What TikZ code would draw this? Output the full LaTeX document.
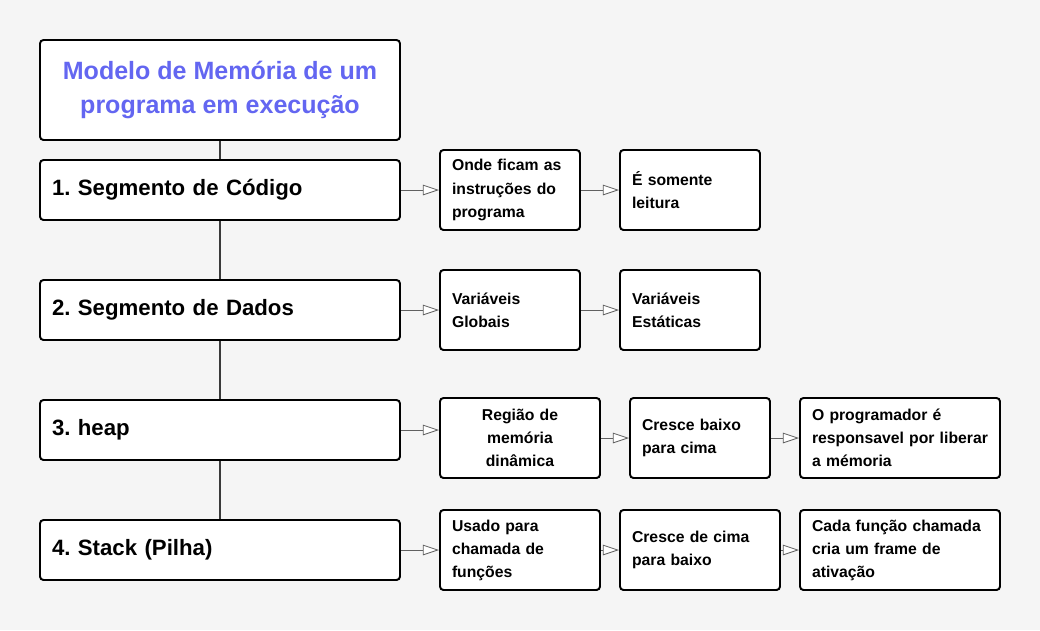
\documentclass[tikz,border=0pt]{standalone}
\usepackage{fontspec}
\setmainfont{Liberation Sans}
\usetikzlibrary{calc,arrows.meta}
\frenchspacing

\definecolor{fundo}{HTML}{F5F5F5}
\definecolor{titulo}{RGB}{99,102,241}
\definecolor{linha}{HTML}{3A3A3A}

\tikzset{
    caixa/.style={draw, line width=1.4pt, rounded corners=2.5pt, fill=white, inner xsep=0.3cm, inner ysep=0pt},
    segmento/.style={caixa, text width=8.4cm, minimum height=1.5cm, align=left,
        font=\fontsize{15.8}{19}\selectfont\bfseries},
    detalhe/.style={caixa, text width=#1, minimum height=2cm, align=left,
        font=\fontsize{11.2}{16.4}\selectfont\bfseries},
    seta/.style={draw=linha!80, line width=0.6pt,
        -{Triangle[open, fill=white, length=11.5pt, width=7.5pt]}},
    liga/.style={draw=linha, line width=1.4pt}
}

\begin{document}
\begin{tikzpicture}
            \useasboundingbox [fill=fundo] (0,0) rectangle (26,-15.75);

            \node (T) at (5.5,-2.25) [caixa, minimum width=9cm, minimum height=2.5cm, align=center,
                text=titulo, font=\fontsize{17.8}{24.2}\selectfont\bfseries]
                {Modelo de Memória de um\\programa em execução};

            \node (S1) at (5.5,-4.75) [segmento] {1. Segmento de Código};
            \node (S2) at (5.5,-7.75) [segmento] {2. Segmento de Dados};
            \node (S3) at (5.5,-10.75) [segmento] {3. heap};
            \node (S4) at (5.5,-13.75) [segmento] {4. Stack (Pilha)};

            % linha 1
            \node (A1) at (12.75,-4.75) [detalhe=2.9cm] {Onde ficam as\\instruções do\\programa};
            \node (B1) at (17.25,-4.75) [detalhe=2.9cm] {É somente\\leitura};

            % linha 2
            \node (A2) at (12.75,-7.75) [detalhe=2.9cm] {Variáveis\\Globais};
            \node (B2) at (17.25,-7.75) [detalhe=2.9cm] {Variáveis\\Estáticas};

            % linha 3
            \node (A3) at (13,-10.95) [detalhe=3.4cm, align=center] {Região de\\memória\\dinâmica};
            \node (B3) at (17.5,-10.95) [detalhe=2.9cm] {Cresce baixo\\para cima};
            \node (C3) at (22.5,-10.95) [detalhe=4.4cm] {O programador é\\responsavel por liberar\\a mémoria};

            % linha 4
            \node (A4) at (13,-13.75) [detalhe=3.4cm] {Usado para\\chamada de\\funções};
            \node (B4) at (17.5,-13.75) [detalhe=3.4cm] {Cresce de cima\\para baixo};
            \node (C4) at (22.5,-13.75) [detalhe=4.4cm] {Cada função chamada\\cria um frame de\\ativação};

            \foreach \a/\b in {T/S1, S1/S2, S2/S3, S3/S4}
                {
                    \draw [liga] (\a.south) -- (\b.north);
                }

            \foreach \a/\b in {S1/A1, A1/B1, S2/A2, A2/B2, S3/A3, A3/B3, B3/C3, S4/A4, A4/B4, B4/C4}
                {
                    \draw [seta] (\a.east) -- (\a.east -| \b.west);
                }

        \end{tikzpicture}
\end{document}
